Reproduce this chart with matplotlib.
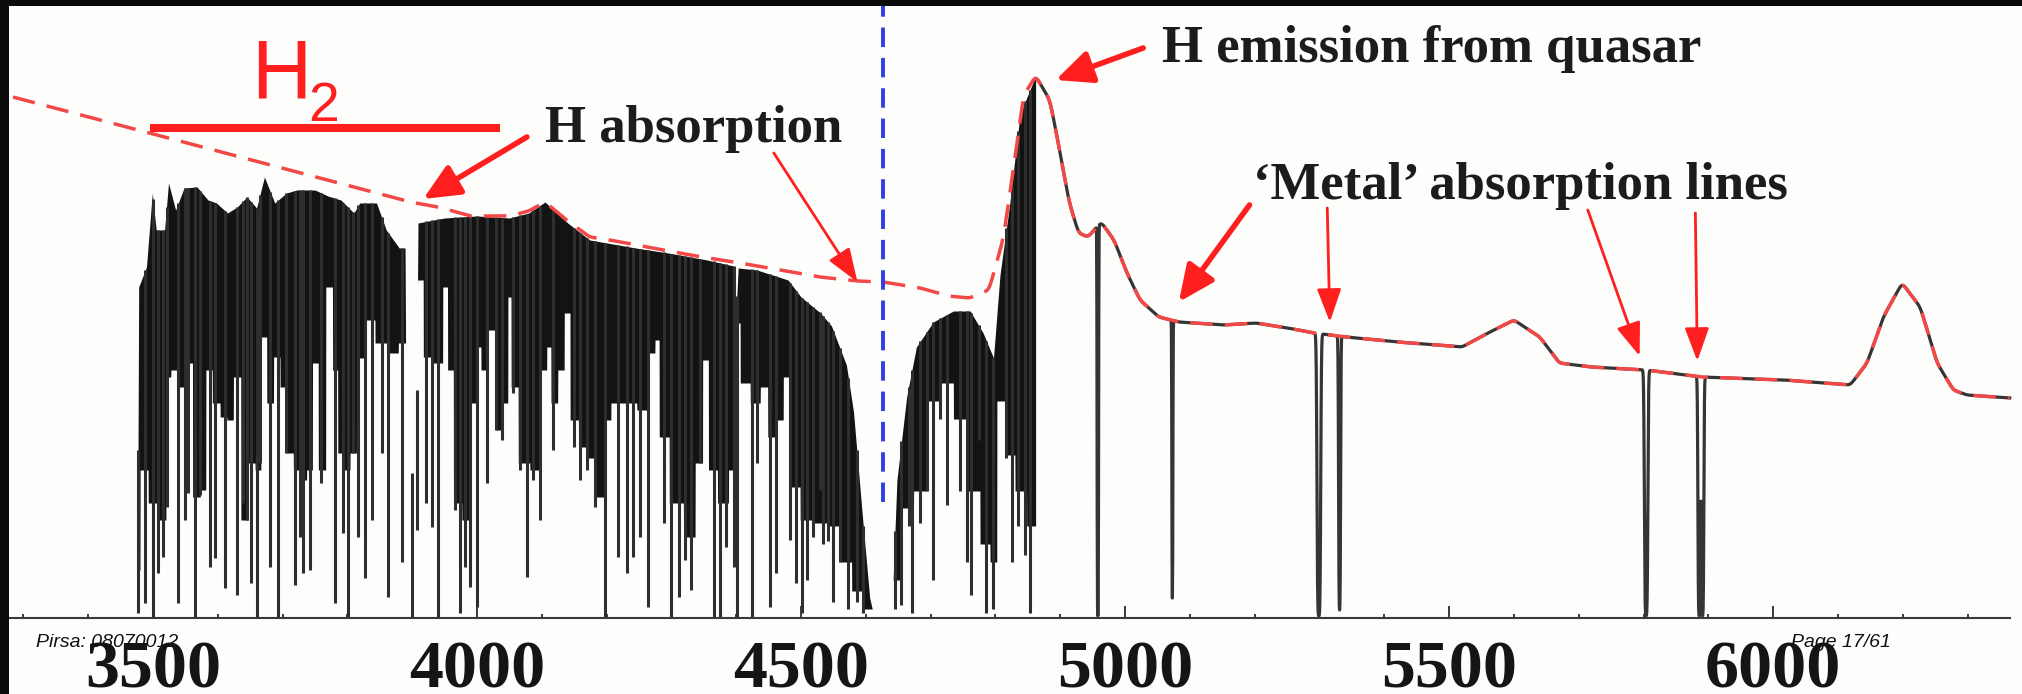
import numpy as np
import matplotlib.pyplot as plt

plt.rcParams['font.family'] = ['Liberation Serif', 'DejaVu Serif']

# red dashed continuum fit (wavelength in Angstrom, flux in arbitrary units)
cont_wave = [3284, 3897, 3940, 3990, 4050, 4080, 4105, 4140, 4174, 4205, 4329, 4406,
             4529, 4587, 4627, 4684, 4727, 4760, 4790, 4812, 4828, 4843, 4862,
             4884, 4899, 4913, 4928, 4943, 4963, 4983, 5003, 5023, 5052, 5083,
             5152, 5202, 5251, 5292, 5341, 5421, 5520, 5560, 5600, 5640, 5670,
             5719, 5804, 5890, 6018, 6119, 6145, 6170, 6199, 6227, 6253, 6278,
             6299, 6365]
cont_flux = [5.21, 4.16, 4.11, 4.02, 4.02, 4.07, 4.16, 3.97, 3.81, 3.78, 3.63, 3.55,
             3.41, 3.37, 3.36, 3.30, 3.22, 3.20, 3.28, 3.79, 4.50, 5.22, 5.42,
             5.18, 4.68, 4.18, 3.85, 3.81, 3.96, 3.78, 3.45, 3.18, 3.01, 2.96,
             2.93, 2.95, 2.90, 2.85, 2.81, 2.76, 2.71, 2.85, 2.98, 2.81, 2.55,
             2.51, 2.48, 2.41, 2.38, 2.33, 2.55, 3.01, 3.35, 3.11, 2.55, 2.28,
             2.23, 2.20]

# upper edge of the Lyman alpha forest
env_wave = [3476, 3478, 3490, 3499, 3505, 3518, 3524, 3535, 3548, 3568, 3585, 3598,
            3615, 3630, 3645, 3660, 3672, 3688, 3706, 3722, 3750, 3770, 3790, 3810,
            3819, 3845, 3860, 3880, 3889, 3891, 3906, 3909, 3950, 4000, 4050, 4080,
            4105, 4140, 4174, 4245, 4295, 4355, 4396, 4399, 4403, 4432, 4480, 4500,
            4530, 4547, 4570, 4581, 4596, 4606, 4612, 4640, 4648, 4663, 4678, 4704,
            4735, 4761, 4781, 4797, 4807, 4822, 4838, 4862]
env_flux = [0.05, 3.31, 3.51, 4.25, 3.88, 3.88, 4.35, 4.08, 4.30, 4.31, 4.18, 4.15,
            4.05, 4.11, 4.21, 4.10, 4.41, 4.15, 4.25, 4.28, 4.28, 4.22, 4.18, 4.05,
            4.15, 4.15, 3.88, 3.70, 3.70, 1.45, 1.45, 3.95, 4.00, 4.02, 4.00, 4.05,
            4.16, 3.95, 3.78, 3.70, 3.65, 3.58, 3.52, 2.95, 3.50, 3.48, 3.38, 3.21,
            3.05, 2.92, 2.53, 2.06, 0.92, 0.20, 0.03, 0.03, 1.38, 2.21, 2.71, 2.96,
            3.07, 3.07, 2.85, 2.60, 3.43, 4.14, 5.04, 5.42]

# lower edge of the solid black part of the forest
mass_wave = [3475, 3485, 3500, 3516, 3524, 3531, 3542, 3554, 3568, 3578, 3585, 3598,
             3609, 3619, 3629, 3642, 3652, 3663, 3670, 3681, 3691, 3701, 3711, 3722,
             3732, 3742, 3750, 3760, 3773, 3781, 3789, 3799, 3809, 3819, 3835, 3850,
             3871, 3886, 3912, 3922, 3943, 3951, 3958, 3969, 3984, 3997, 4002, 4010,
             4023, 4035, 4046, 4049, 4056, 4071, 4092, 4105, 4110, 4118, 4131, 4138,
             4149, 4164, 4174, 4190, 4203, 4210, 4236, 4257, 4272, 4277, 4285, 4308,
             4329, 4344, 4352, 4362, 4380, 4396, 4401, 4411, 4432, 4442, 4455, 4470,
             4475, 4488, 4509, 4529, 4550, 4570, 4586, 4601, 4648, 4663, 4684, 4704,
             4725, 4745, 4766, 4786, 4797, 4807, 4822, 4838, 4858]
mass_flux = [0.48, 1.48, 1.15, 0.98, 2.41, 2.48, 2.31, 2.55, 1.21, 1.28, 2.48, 2.15,
             2.01, 1.98, 2.41, 0.98, 1.55, 1.48, 2.81, 2.15, 2.61, 2.31, 1.65, 1.48,
             1.38, 1.48, 2.55, 1.48, 3.31, 2.48, 1.65, 1.48, 1.65, 2.60, 2.98, 2.75,
             2.65, 2.75, 3.38, 2.61, 2.55, 3.31, 2.48, 1.15, 0.98, 2.15, 2.71, 2.48,
             2.88, 1.88, 2.15, 3.21, 2.31, 1.55, 1.48, 2.48, 2.71, 2.15, 2.48, 3.05,
             1.98, 1.71, 1.60, 1.21, 1.98, 2.15, 2.15, 2.08, 2.65, 2.78, 1.81, 1.15,
             0.81, 1.55, 2.58, 1.48, 1.15, 1.48, 2.95, 2.35, 2.15, 2.31, 1.81, 1.98,
             2.41, 1.31, 0.98, 0.95, 0.92, 0.56, 0.27, 0.09, 0.38, 1.10, 1.27, 2.17,
             2.35, 1.99, 1.27, 0.74, 0.56, 2.17, 1.63, 1.27, 0.92]

# single forest lines and the flux at their bottom
line_wave = [3477, 3488, 3500, 3508, 3516, 3521, 3539, 3549, 3554, 3565, 3573, 3588,
             3596, 3611, 3629, 3639, 3645, 3652, 3660, 3665, 3681, 3693, 3706, 3719,
             3727, 3732, 3742, 3760, 3781, 3794, 3801, 3809, 3817, 3827, 3838, 3853,
             3863, 3884, 3899, 3907, 3922, 3930, 3940, 3966, 3974, 3981, 3989, 4000,
             4015, 4030, 4038, 4056, 4066, 4077, 4087, 4097, 4118, 4149, 4159, 4169,
             4182, 4198, 4218, 4231, 4241, 4252, 4264, 4288, 4300, 4311, 4321, 4331,
             4344, 4365, 4375, 4385, 4396, 4401, 4424, 4432, 4452, 4462, 4483, 4493,
             4501, 4509, 4519, 4529, 4534, 4542, 4550, 4560, 4573, 4586, 4596, 4645,
             4655, 4666, 4671, 4684, 4694, 4704, 4714, 4725, 4745, 4756, 4763, 4774,
             4786, 4797, 4817, 4825, 4835, 4846, 4853]
line_floor = [0.05, 0.15, 0.00, 0.45, 0.61, 1.11, 0.15, 0.98, 1.25, 0.00, 1.23, 0.51,
              0.60, 0.30, 0.23, 1.15, 0.98, 0.35, 0.00, 1.55, 0.51, 0.00, 1.65, 0.33,
              0.81, 0.45, 0.48, 1.35, 0.15, 0.85, 0.00, 1.65, 0.81, 0.40, 0.98, 1.65,
              0.21, 0.56, 0.00, 0.88, 1.15, 0.91, 0.00, 1.08, 0.05, 0.51, 0.31, 0.11,
              1.35, 1.88, 1.78, 2.25, 1.48, 0.41, 1.38, 0.98, 1.68, 1.71, 1.38, 1.48,
              1.11, 0.00, 0.61, 0.45, 0.61, 0.81, 0.11, 0.95, 0.00, 0.21, 0.58, 0.28,
              1.55, 0.00, 0.00, 0.71, 0.51, 0.00, 0.00, 1.55, 0.11, 0.45, 0.78, 0.35,
              0.05, 0.38, 0.81, 1.28, 0.74, 0.77, 0.16, 0.56, 0.09, 0.16, 0.05, 0.09,
              0.13, 0.92, 0.05, 0.95, 1.27, 0.38, 1.99, 1.13, 1.27, 0.56, 0.23, 1.78,
              0.05, 0.09, 1.60, 0.56, 0.92, 0.63, 0.05]

# 'metal' lines redward of Lyman alpha: centre, bottom flux, gaussian width
metal_wave = [4958, 5073, 5299, 5331, 5804, 5886, 5891]
metal_floor = [0.02, 0.20, 0.02, 0.08, 0.02, 0.02, 0.02]
metal_sigma = [0.6, 0.5, 1.5, 0.9, 1.4, 1.1, 1.1]

major_ticks = [3500, 4000, 4500, 5000, 5500, 6000]
tick_labels = ['3500', '4000', '4500', '5000', '5500', '6000']
minor_ticks = list(range(3300, 6400, 100))

h2_range = (3496, 4036)
lya_marker = 4627

red = '#ff1f1f'
ink = '#1c1c1c'

fig = plt.figure(figsize=(20.22, 6.94), dpi=100, facecolor='#0b0b0b')
ax = fig.add_axes([9 / 2022, 0, 2013 / 2022, 688 / 694])
ax.set_facecolor('#fdfdfb')
ax.set_xlim(3277.9, 6384)
ax.set_ylim(-0.76, 6.12)

# smooth continuum on a fine grid
step = 0.5
wl = np.arange(cont_wave[0], cont_wave[-1] + step, step)
cont_lin = np.interp(wl, cont_wave, cont_flux)
k = np.exp(-0.5 * (np.arange(-16, 17) * step / 3.0) ** 2)
k /= k.sum()
cont = np.convolve(np.pad(cont_lin, 16, mode='edge'), k, mode='valid')

# forest: solid black block (stepped, like packed lines) plus the deep single lines
wf = np.arange(env_wave[0], env_wave[-1] + 0.25, 0.25)
env = np.interp(wf, env_wave, env_flux)
mw = np.array(mass_wave)
nearest = np.abs(wf[:, None] - mw[None, :]).argmin(axis=1)
mass = np.minimum(np.array(mass_flux)[nearest], env)
ax.fill_between(wf, mass, env, color='#131313', lw=0, zorder=2)
tops = np.interp(line_wave, env_wave, env_flux)
ax.vlines(line_wave, line_floor, tops, color='#2e2e2e', lw=2.2, zorder=2)

# red side: continuum times metal absorption
rs = wl >= 4862
wr = wl[rs]
cr = cont[rs]
tau = np.zeros_like(wr)
for w, f, s in zip(metal_wave, metal_floor, metal_sigma):
    c0 = np.interp(w, wr, cr)
    tau0 = -np.log(max(f / c0, 0.004))
    tau += tau0 * np.exp(-0.5 * ((wr - w) / s) ** 2)
ax.plot(wr, cr * np.exp(-tau), color='#353535', lw=2.3, zorder=3)

# continuum fit
ax.plot(wl, cont, color='#f24848', lw=2.5, ls=(0, (6.5, 3.5)), zorder=4)

# redshifted Lyman alpha marker
ax.plot([lya_marker, lya_marker], [1.16, 6.12], color='#2f3fe0', lw=2.8,
        ls=(0, (5, 2.8)), zorder=4)

# H2 band
ax.plot(h2_range, [4.90, 4.90], color=red, lw=5.8, solid_capstyle='butt', zorder=4)
sans = ['Liberation Sans', 'DejaVu Sans']
ax.text(3652, 5.20, 'H', color=red, fontsize=60, family=sans, va='baseline', zorder=5)
ax.text(3740, 4.97, '2', color=red, fontsize=40, family=sans, va='baseline', zorder=5)

# labels
ax.text(4105, 4.76, 'H absorption', fontsize=38, fontweight='bold', color=ink,
        va='baseline', zorder=5)
ax.text(5057, 5.56, 'H emission from quasar', fontsize=38, fontweight='bold',
        color=ink, va='baseline', zorder=5)
ax.text(5197, 4.19, '\u2018Metal\u2019 absorption lines', fontsize=38,
        fontweight='bold', color=ink, va='baseline', zorder=5)

thick = dict(arrowstyle='-|>,head_length=0.55,head_width=0.25', lw=4, color=red,
             mutation_scale=40, shrinkA=0, shrinkB=0)
thin = dict(arrowstyle='-|>,head_length=0.6,head_width=0.22', lw=2, color=red,
            mutation_scale=34, shrinkA=0, shrinkB=0)
arrows = [((4077, 4.81), (3917, 4.19), thick),
          ((4458, 4.65), (4587, 3.36), thin),
          ((5028, 5.70), (4893, 5.38), thick),
          ((5192, 4.13), (5083, 3.16), thick),
          ((5312, 4.10), (5316, 2.96), thin),
          ((5714, 4.08), (5794, 2.62), thin),
          ((5880, 4.05), (5883, 2.57), thin)]
for tail, tip, props in arrows:
    ax.annotate('', xy=tip, xytext=tail, arrowprops=props, zorder=6)

# axis
for side in ['left', 'right', 'top']:
    ax.spines[side].set_visible(False)
ax.spines['bottom'].set_position(('data', 0))
ax.spines['bottom'].set_bounds(3280, 6365)
ax.spines['bottom'].set_color('#3a3a3a')
ax.spines['bottom'].set_linewidth(1.5)
ax.set_yticks([])
ax.set_xticks(major_ticks)
ax.set_xticklabels(tick_labels, fontsize=49, fontweight='bold')
ax.set_xticks(minor_ticks, minor=True)
ax.tick_params(axis='x', which='major', direction='in', length=8.5, width=1.4,
               color='#3a3a3a', pad=16, labelcolor='#151515')
ax.tick_params(axis='x', which='minor', direction='in', length=3, width=1.4,
               color='#3a3a3a')

# slide footer
fig.text(36 / 2022, 47 / 694, 'Pirsa: 08070012', fontsize=14, style='italic',
         family=['Liberation Sans', 'DejaVu Sans'], color='#111111', zorder=10)
fig.text(1891 / 2022, 47 / 694, 'Page 17/61', fontsize=14, style='italic',
         family=['Liberation Sans', 'DejaVu Sans'], color='#111111', ha='right',
         zorder=10)

fig.savefig('out.png', dpi=100, facecolor=fig.get_facecolor())
